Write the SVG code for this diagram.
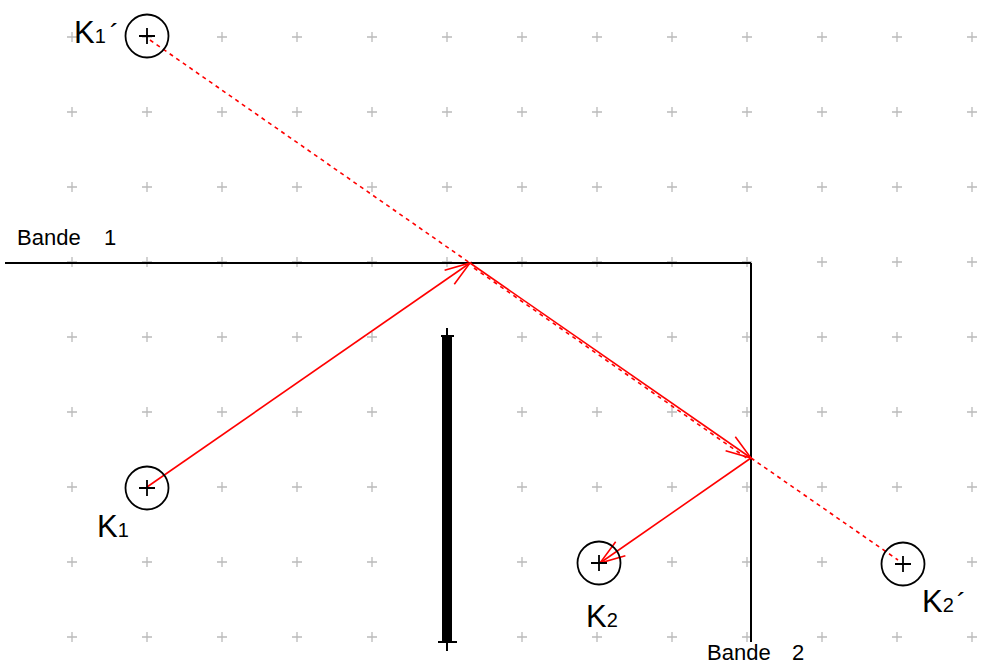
<svg xmlns="http://www.w3.org/2000/svg" width="981" height="666" viewBox="0 0 981 666">
<defs>
<style>
.grid{stroke:#bbbbbb;stroke-width:1.3;fill:none}
.band{stroke:#000;stroke-width:2;fill:none}
.ray{stroke:#ff0000;stroke-width:1.6;fill:none}
.dash{stroke:#ff0000;stroke-width:1.6;fill:none;stroke-dasharray:4 4}
.ball{stroke:#000;stroke-width:1.8;fill:none}
.cross{stroke:#000;stroke-width:1.8}
.lbl{font-family:"Liberation Sans",Arial,sans-serif;fill:#000}
.big{font-size:31px}
.sub{font-size:20px}
.acc{font-size:28px}
.band-t{font-size:22px}
</style>
<marker id="ah" markerUnits="userSpaceOnUse" markerWidth="30" markerHeight="24" viewBox="-27 -12 30 24" refX="0" refY="0" orient="auto">
<path d="M-25,-8.5 L0,0 L-25,8.5" fill="none" stroke="#ff0000" stroke-width="1.6"/>
</marker>
<path id="p" d="M-5,0 H5 M0,-5 V5"/>
</defs>
<rect width="981" height="666" fill="#fff"/>
<g id="grid" class="grid">
<use href="#p" x="72" y="37"/><use href="#p" x="147" y="37"/><use href="#p" x="222" y="37"/><use href="#p" x="297" y="37"/><use href="#p" x="372" y="37"/><use href="#p" x="447" y="37"/><use href="#p" x="522" y="37"/><use href="#p" x="597" y="37"/><use href="#p" x="672" y="37"/><use href="#p" x="747" y="37"/><use href="#p" x="822" y="37"/><use href="#p" x="897" y="37"/><use href="#p" x="972" y="37"/>
<use href="#p" x="72" y="112"/><use href="#p" x="147" y="112"/><use href="#p" x="222" y="112"/><use href="#p" x="297" y="112"/><use href="#p" x="372" y="112"/><use href="#p" x="447" y="112"/><use href="#p" x="522" y="112"/><use href="#p" x="597" y="112"/><use href="#p" x="672" y="112"/><use href="#p" x="747" y="112"/><use href="#p" x="822" y="112"/><use href="#p" x="897" y="112"/><use href="#p" x="972" y="112"/>
<use href="#p" x="72" y="187"/><use href="#p" x="147" y="187"/><use href="#p" x="222" y="187"/><use href="#p" x="297" y="187"/><use href="#p" x="372" y="187"/><use href="#p" x="447" y="187"/><use href="#p" x="522" y="187"/><use href="#p" x="597" y="187"/><use href="#p" x="672" y="187"/><use href="#p" x="747" y="187"/><use href="#p" x="822" y="187"/><use href="#p" x="897" y="187"/><use href="#p" x="972" y="187"/>
<use href="#p" x="72" y="262"/><use href="#p" x="147" y="262"/><use href="#p" x="222" y="262"/><use href="#p" x="297" y="262"/><use href="#p" x="372" y="262"/><use href="#p" x="447" y="262"/><use href="#p" x="522" y="262"/><use href="#p" x="597" y="262"/><use href="#p" x="672" y="262"/><use href="#p" x="747" y="262"/><use href="#p" x="822" y="262"/><use href="#p" x="897" y="262"/><use href="#p" x="972" y="262"/>
<use href="#p" x="72" y="337"/><use href="#p" x="147" y="337"/><use href="#p" x="222" y="337"/><use href="#p" x="297" y="337"/><use href="#p" x="372" y="337"/><use href="#p" x="522" y="337"/><use href="#p" x="597" y="337"/><use href="#p" x="672" y="337"/><use href="#p" x="747" y="337"/><use href="#p" x="822" y="337"/><use href="#p" x="897" y="337"/><use href="#p" x="972" y="337"/>
<use href="#p" x="72" y="412"/><use href="#p" x="147" y="412"/><use href="#p" x="222" y="412"/><use href="#p" x="297" y="412"/><use href="#p" x="372" y="412"/><use href="#p" x="522" y="412"/><use href="#p" x="597" y="412"/><use href="#p" x="672" y="412"/><use href="#p" x="747" y="412"/><use href="#p" x="822" y="412"/><use href="#p" x="897" y="412"/><use href="#p" x="972" y="412"/>
<use href="#p" x="72" y="487"/><use href="#p" x="222" y="487"/><use href="#p" x="297" y="487"/><use href="#p" x="372" y="487"/><use href="#p" x="522" y="487"/><use href="#p" x="597" y="487"/><use href="#p" x="672" y="487"/><use href="#p" x="747" y="487"/><use href="#p" x="822" y="487"/><use href="#p" x="897" y="487"/><use href="#p" x="972" y="487"/>
<use href="#p" x="72" y="562"/><use href="#p" x="147" y="562"/><use href="#p" x="222" y="562"/><use href="#p" x="297" y="562"/><use href="#p" x="372" y="562"/><use href="#p" x="522" y="562"/><use href="#p" x="672" y="562"/><use href="#p" x="747" y="562"/><use href="#p" x="822" y="562"/><use href="#p" x="972" y="562"/>
<use href="#p" x="72" y="637"/><use href="#p" x="147" y="637"/><use href="#p" x="222" y="637"/><use href="#p" x="297" y="637"/><use href="#p" x="372" y="637"/><use href="#p" x="522" y="637"/><use href="#p" x="597" y="637"/><use href="#p" x="672" y="637"/><use href="#p" x="747" y="637"/><use href="#p" x="822" y="637"/><use href="#p" x="897" y="637"/><use href="#p" x="972" y="637"/>
</g>
<g id="bande1">
<line class="band" x1="5" y1="263" x2="751" y2="263"/>
<text class="lbl band-t" x="17" y="245">Bande<tspan x="104">1</tspan></text>
</g>
<g id="bande2">
<line class="band" x1="751" y1="263" x2="751" y2="642"/>
<text class="lbl band-t" x="707" y="660">Bande<tspan x="792">2</tspan></text>
</g>
<g id="obstacle">
<line x1="447" y1="336" x2="447" y2="642" stroke="#000" stroke-width="10"/>
<path d="M441,336 H454 M447,328 V336 M438,642 H457 M447,642 V651" stroke="#000" stroke-width="2"/>
</g>
<g id="connectors">
<line class="dash" x1="150" y1="40" x2="470" y2="263"/>
<line class="dash" x1="474" y1="268" x2="748" y2="459"/>
<line class="dash" x1="751" y1="458" x2="898" y2="560"/>
<line class="ray" x1="147" y1="487" x2="470" y2="263" marker-end="url(#ah)"/>
<line class="ray" x1="470" y1="263" x2="751" y2="458" marker-end="url(#ah)"/>
<line class="ray" x1="751" y1="458" x2="600" y2="563" marker-end="url(#ah)"/>
</g>
<g id="K1prime">
<circle class="ball" cx="147" cy="36" r="21.5"/>
<path class="cross" d="M139,36 H155 M147,28 V44"/>
<text class="lbl big" x="74" y="43">K<tspan class="sub">1</tspan><tspan class="acc" dx="4">´</tspan></text>
</g>
<g id="K1">
<circle class="ball" cx="147" cy="488" r="21.5"/>
<path class="cross" d="M139,488 H155 M147,480 V496"/>
<text class="lbl big" x="97" y="537">K<tspan class="sub">1</tspan></text>
</g>
<g id="K2">
<circle class="ball" cx="599" cy="563" r="21.5"/>
<path class="cross" d="M591,563 H607 M599,555 V571"/>
<text class="lbl big" x="586" y="627">K<tspan class="sub">2</tspan></text>
</g>
<g id="K2prime">
<circle class="ball" cx="903" cy="564" r="21.5"/>
<path class="cross" d="M895,564 H911 M903,556 V572"/>
<text class="lbl big" x="922" y="612">K<tspan class="sub">2</tspan><tspan class="acc" dx="3">´</tspan></text>
</g>
</svg>
